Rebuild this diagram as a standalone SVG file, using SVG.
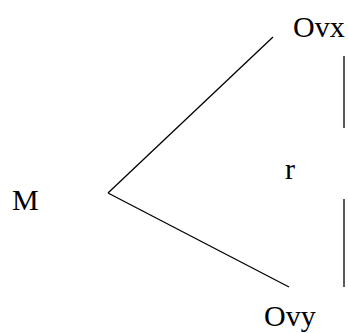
<svg xmlns="http://www.w3.org/2000/svg" width="348" height="333" viewBox="0 0 348 333">
<style>
text{font-family:"Liberation Serif","Times New Roman",serif;font-size:30px;fill:#000}
line{stroke:#000;stroke-width:1.3}
</style>
<rect width="348" height="333" fill="#fff"/>
<g id="M"><text x="12" y="210">M</text></g>
<g id="Ovx"><text x="293" y="37">Ovx</text></g>
<g id="Ovy"><text x="264" y="326">Ovy</text></g>
<g id="r"><text x="285" y="179">r</text></g>
<g id="connectors">
<line x1="108" y1="193" x2="273" y2="37"/>
<line x1="108" y1="193" x2="289" y2="287"/>
<line x1="344" y1="56" x2="344" y2="128"/>
<line x1="344" y1="199" x2="344" y2="287"/>
</g>
</svg>
